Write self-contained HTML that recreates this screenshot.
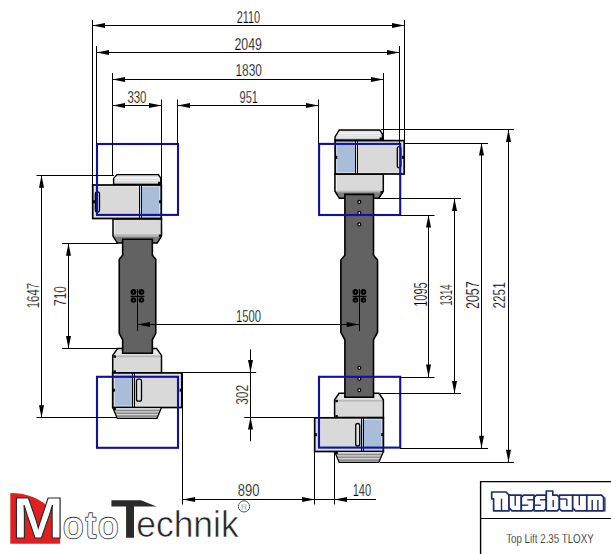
<!DOCTYPE html>
<html><head><meta charset="utf-8"><style>
html,body{margin:0;padding:0;background:#fff;width:611px;height:554px;overflow:hidden}
svg{display:block}
text{font-family:"Liberation Sans",sans-serif}
.d{fill:#000;stroke:#fff;stroke-width:0.25px}
</style></head><body>
<svg width="611" height="554" viewBox="0 0 611 554">
<rect width="611" height="554" fill="#fff"/>
<polygon points="113.00,219.00 161.50,219.00 161.50,236.10 157.20,243.10 117.30,243.10 113.00,236.10" fill="#d9d9d9"/>
<rect x="113.0" y="234.30" width="48.5" height="2.5" fill="#b4b4b4"/>
<polygon points="113.00,236.80 161.50,236.80 161.50,236.80 157.20,243.10 117.30,243.10 113.00,236.80" fill="#7e7e7e"/>
<line x1="114.6" y1="219.0" x2="114.6" y2="234.29999999999998" stroke="#f4f4f4" stroke-width="0.8"/>
<polygon points="113.00,219.00 161.50,219.00 161.50,236.10 157.20,243.10 117.30,243.10 113.00,236.10" fill="none" stroke="#000" stroke-width="1.5"/>
<rect x="158.80" y="234.60" width="2.4" height="2.4" fill="#000"/>
<polygon points="117.70,348.40 156.50,348.40 161.50,355.40 161.50,372.90 112.70,372.90 112.70,355.40" fill="#d9d9d9"/>
<polygon points="112.7,355.4 117.7,348.4 156.5,348.4 161.5,355.4" fill="#e6e6e6"/>
<rect x="112.7" y="355.40" width="48.8" height="1.8" fill="#b8b8b8"/>
<polygon points="117.70,348.40 156.50,348.40 161.50,355.40 161.50,372.90 112.70,372.90 112.70,355.40" fill="none" stroke="#000" stroke-width="1.5"/>
<rect x="113.50" y="355.40" width="2.4" height="2.4" fill="#000"/>
<rect x="113.50" y="370.40" width="2.4" height="2.4" fill="#000"/>
<polygon points="122.65,239.20 152.35,239.20 152.35,255.30 155.75,259.30 155.75,333.40 152.35,339.80 152.35,353.20 122.65,353.20 122.65,339.80 119.25,333.40 119.25,259.30 122.65,255.30" fill="#626262" stroke="#000" stroke-width="1.6"/>
<clipPath id="ct1"><polygon points="117.00,174.60 158.40,174.60 160.80,178.20 160.80,184.50 113.60,184.50 113.60,178.40"/></clipPath>
<g clip-path="url(#ct1)">
<rect x="113.6" y="174.6" width="47.20000000000002" height="9.900000000000006" fill="#f8f8f8"/>
<rect x="113.6" y="174.60" width="47.20000000000002" height="2.48" fill="#dedede"/>
<rect x="113.6" y="178.76" width="47.20000000000002" height="0.99" fill="#d2d2d2"/>
<rect x="113.6" y="180.74" width="47.20000000000002" height="0.99" fill="#d2d2d2"/>
<rect x="113.6" y="182.52" width="47.20000000000002" height="1.98" fill="#bfbfbf"/>
</g>
<polygon points="117.00,174.60 158.40,174.60 160.80,178.20 160.80,184.50 113.60,184.50 113.60,178.40" fill="none" stroke="#000" stroke-width="1.4"/>
<rect x="158.00" y="181.80" width="2.4" height="2.4" fill="#000"/>
<rect x="92.7" y="185.0" width="47.7" height="33.5" fill="#d9d9d9"/>
<rect x="140.4" y="185.0" width="20.900000000000006" height="33.5" fill="#a9bcd8"/>
<rect x="94.5" y="186.6" width="65.00000000000001" height="30.3" fill="none" stroke="#f0f0f0" stroke-width="0.8" opacity="0.7"/>
<rect x="92.7" y="185.0" width="68.60000000000001" height="33.5" fill="none" stroke="#000" stroke-width="1.7"/>
<line x1="139.5" y1="185.0" x2="139.5" y2="218.5" stroke="#000" stroke-width="1"/>
<line x1="141.5" y1="185.0" x2="141.5" y2="218.5" stroke="#000" stroke-width="1"/>
<rect x="95.3" y="191.8" width="4.2" height="20.099999999999994" rx="2" fill="#dedede" stroke="#000" stroke-width="1.3"/>
<rect x="92.90" y="200.25" width="2" height="3" fill="#000"/>
<rect x="159.10" y="200.25" width="2" height="3" fill="#000"/>
<rect x="112.7" y="372.9" width="21.10000000000001" height="34.60000000000002" fill="#a9bcd8"/>
<rect x="133.8" y="372.9" width="48.0" height="34.60000000000002" fill="#d9d9d9"/>
<rect x="114.5" y="374.5" width="65.50000000000001" height="31.400000000000023" fill="none" stroke="#f0f0f0" stroke-width="0.8" opacity="0.7"/>
<rect x="112.7" y="372.9" width="69.10000000000001" height="34.60000000000002" fill="none" stroke="#000" stroke-width="1.7"/>
<line x1="132.5" y1="372.9" x2="132.5" y2="407.5" stroke="#000" stroke-width="1"/>
<line x1="134.5" y1="372.9" x2="134.5" y2="407.5" stroke="#000" stroke-width="1"/>
<rect x="136.5" y="379.2" width="5" height="22.0" rx="2" fill="#dedede" stroke="#000" stroke-width="1.3"/>
<rect x="112.90" y="388.70" width="2" height="3" fill="#000"/>
<rect x="179.60" y="388.70" width="2" height="3" fill="#000"/>
<polygon points="112.70,407.50 161.50,407.50 157.00,418.30 117.20,418.30" fill="#d6d6d6"/>
<polygon points="113.60,409.66 160.60,409.66 159.92,411.28 114.28,411.28" fill="#8a8a8a"/>
<polygon points="114.77,412.47 159.43,412.47 158.75,414.09 115.45,414.09" fill="#8a8a8a"/>
<polygon points="115.94,415.28 158.26,415.28 157.59,416.90 116.62,416.90" fill="#8a8a8a"/>
<polygon points="112.70,407.50 161.50,407.50 157.00,418.30 117.20,418.30" fill="none" stroke="#000" stroke-width="1.2"/>
<rect x="113.50" y="407.60" width="2.4" height="2.4" fill="#000"/>
<polygon points="334.90,173.90 383.30,173.90 383.30,191.20 378.80,198.20 339.40,198.20 334.90,191.20" fill="#d9d9d9"/>
<rect x="334.9" y="190.70" width="48.400000000000034" height="1.5" fill="#b4b4b4"/>
<polygon points="334.90,192.20 383.30,192.20 383.30,192.20 378.80,198.20 339.40,198.20 334.90,192.20" fill="#7e7e7e"/>
<line x1="336.5" y1="173.9" x2="336.5" y2="190.7" stroke="#f4f4f4" stroke-width="0.8"/>
<polygon points="334.90,173.90 383.30,173.90 383.30,191.20 378.80,198.20 339.40,198.20 334.90,191.20" fill="none" stroke="#000" stroke-width="1.5"/>
<rect x="380.60" y="191.00" width="2.4" height="2.4" fill="#000"/>
<polygon points="339.10,393.30 378.90,393.30 383.40,399.80 383.40,417.60 334.60,417.60 334.60,399.80" fill="#d9d9d9"/>
<polygon points="334.6,399.8 339.1,393.3 378.9,393.3 383.4,399.8" fill="#e6e6e6"/>
<rect x="334.6" y="399.80" width="48.799999999999955" height="1.8" fill="#b8b8b8"/>
<polygon points="339.10,393.30 378.90,393.30 383.40,399.80 383.40,417.60 334.60,417.60 334.60,399.80" fill="none" stroke="#000" stroke-width="1.5"/>
<rect x="335.40" y="399.80" width="2.4" height="2.4" fill="#000"/>
<rect x="335.40" y="415.10" width="2.4" height="2.4" fill="#000"/>
<polygon points="344.90,194.40 373.50,194.40 373.50,255.20 377.55,260.00 377.55,332.20 373.50,339.80 373.50,397.20 344.90,397.20 344.90,339.80 340.85,332.20 340.85,260.00 344.90,255.20" fill="#626262" stroke="#000" stroke-width="1.6"/>
<clipPath id="ct2"><polygon points="339.30,130.00 379.80,130.00 382.40,134.00 382.40,140.20 335.00,140.20 335.00,137.00"/></clipPath>
<g clip-path="url(#ct2)">
<rect x="335.0" y="130.0" width="47.39999999999998" height="10.199999999999989" fill="#f8f8f8"/>
<rect x="335.0" y="130.00" width="47.39999999999998" height="2.55" fill="#dedede"/>
<rect x="335.0" y="134.28" width="47.39999999999998" height="1.02" fill="#d2d2d2"/>
<rect x="335.0" y="136.32" width="47.39999999999998" height="1.02" fill="#d2d2d2"/>
<rect x="335.0" y="138.16" width="47.39999999999998" height="2.04" fill="#bfbfbf"/>
</g>
<polygon points="339.30,130.00 379.80,130.00 382.40,134.00 382.40,140.20 335.00,140.20 335.00,137.00" fill="none" stroke="#000" stroke-width="1.4"/>
<rect x="379.60" y="137.50" width="2.4" height="2.4" fill="#000"/>
<rect x="335.1" y="140.6" width="20.899999999999977" height="33.400000000000006" fill="#a9bcd8"/>
<rect x="356.0" y="140.6" width="48.19999999999999" height="33.400000000000006" fill="#d9d9d9"/>
<rect x="336.90000000000003" y="142.2" width="65.49999999999997" height="30.200000000000006" fill="none" stroke="#f0f0f0" stroke-width="0.8" opacity="0.7"/>
<rect x="335.1" y="140.6" width="69.09999999999997" height="33.400000000000006" fill="none" stroke="#000" stroke-width="1.7"/>
<line x1="355.5" y1="140.6" x2="355.5" y2="174.0" stroke="#000" stroke-width="1"/>
<line x1="357.5" y1="140.6" x2="357.5" y2="174.0" stroke="#000" stroke-width="1"/>
<rect x="397.3" y="146.6" width="3.6" height="21.200000000000017" rx="2" fill="#dedede" stroke="#000" stroke-width="1.3"/>
<rect x="335.30" y="155.80" width="2" height="3" fill="#000"/>
<rect x="402.00" y="155.80" width="2" height="3" fill="#000"/>
<rect x="314.7" y="417.8" width="47.30000000000001" height="33.69999999999999" fill="#d9d9d9"/>
<rect x="362.0" y="417.8" width="21.399999999999977" height="33.69999999999999" fill="#a9bcd8"/>
<rect x="316.5" y="419.40000000000003" width="65.1" height="30.49999999999999" fill="none" stroke="#f0f0f0" stroke-width="0.8" opacity="0.7"/>
<rect x="314.7" y="417.8" width="68.69999999999999" height="33.69999999999999" fill="none" stroke="#000" stroke-width="1.7"/>
<line x1="361.5" y1="417.8" x2="361.5" y2="451.5" stroke="#000" stroke-width="1"/>
<line x1="363.5" y1="417.8" x2="363.5" y2="451.5" stroke="#000" stroke-width="1"/>
<rect x="355.7" y="423.5" width="4" height="22.5" rx="2" fill="#dedede" stroke="#000" stroke-width="1.3"/>
<rect x="314.90" y="433.15" width="2" height="3" fill="#000"/>
<rect x="381.20" y="433.15" width="2" height="3" fill="#000"/>
<polygon points="334.60,451.50 383.40,451.50 378.90,462.30 339.10,462.30" fill="#d6d6d6"/>
<polygon points="335.50,453.66 382.50,453.66 381.82,455.28 336.18,455.28" fill="#8a8a8a"/>
<polygon points="336.67,456.47 381.33,456.47 380.65,458.09 337.35,458.09" fill="#8a8a8a"/>
<polygon points="337.84,459.28 380.16,459.28 379.48,460.90 338.52,460.90" fill="#8a8a8a"/>
<polygon points="334.60,451.50 383.40,451.50 378.90,462.30 339.10,462.30" fill="none" stroke="#000" stroke-width="1.2"/>
<rect x="335.40" y="451.60" width="2.4" height="2.4" fill="#000"/>
<circle cx="359.3" cy="202.0" r="1.5" fill="#fff" stroke="#000" stroke-width="1.3"/>
<circle cx="359.3" cy="212.9" r="1.5" fill="#fff" stroke="#000" stroke-width="1.3"/>
<circle cx="359.3" cy="224.4" r="1.5" fill="#fff" stroke="#000" stroke-width="1.3"/>
<circle cx="359.3" cy="367.8" r="1.5" fill="#fff" stroke="#000" stroke-width="1.3"/>
<circle cx="359.3" cy="378.8" r="1.5" fill="#fff" stroke="#000" stroke-width="1.3"/>
<circle cx="359.3" cy="390.1" r="1.5" fill="#fff" stroke="#000" stroke-width="1.3"/>
<circle cx="133.4" cy="291.9" r="2.9" fill="#000"/>
<circle cx="133.70000000000002" cy="292.09999999999997" r="0.8" fill="#555"/>
<circle cx="133.4" cy="300.0" r="2.8" fill="#000"/>
<circle cx="133.70000000000002" cy="300.2" r="0.8" fill="#555"/>
<circle cx="141.4" cy="291.9" r="2.9" fill="#000"/>
<circle cx="141.70000000000002" cy="292.09999999999997" r="0.8" fill="#555"/>
<circle cx="141.4" cy="300.0" r="2.8" fill="#000"/>
<circle cx="141.70000000000002" cy="300.2" r="0.8" fill="#555"/>
<line x1="130.6" y1="296.4" x2="144.4" y2="296.4" stroke="#000" stroke-width="1.3"/>
<circle cx="355.4" cy="291.9" r="2.9" fill="#000"/>
<circle cx="355.7" cy="292.09999999999997" r="0.8" fill="#555"/>
<circle cx="355.4" cy="300.0" r="2.8" fill="#000"/>
<circle cx="355.7" cy="300.2" r="0.8" fill="#555"/>
<circle cx="363.4" cy="291.9" r="2.9" fill="#000"/>
<circle cx="363.7" cy="292.09999999999997" r="0.8" fill="#555"/>
<circle cx="363.4" cy="300.0" r="2.8" fill="#000"/>
<circle cx="363.7" cy="300.2" r="0.8" fill="#555"/>
<line x1="352.6" y1="296.4" x2="366.4" y2="296.4" stroke="#000" stroke-width="1.3"/>
<rect x="97.0" y="144.0" width="81.0" height="70.9" fill="none" stroke="#1010a6" stroke-width="2.1"/>
<rect x="97.0" y="376.8" width="81.0" height="71.0" fill="none" stroke="#1010a6" stroke-width="2.1"/>
<rect x="319.1" y="143.9" width="81.09999999999997" height="71.1" fill="none" stroke="#1010a6" stroke-width="2.1"/>
<rect x="319.0" y="376.8" width="81.19999999999999" height="70.80000000000001" fill="none" stroke="#1010a6" stroke-width="2.1"/>
<line x1="92.5" y1="20" x2="92.5" y2="219" stroke="#000" stroke-width="1"/>
<line x1="404.5" y1="20" x2="404.5" y2="174" stroke="#000" stroke-width="1"/>
<line x1="92.5" y1="25.5" x2="404.5" y2="25.5" stroke="#000" stroke-width="1"/>
<polygon points="92.50,25.50 105.00,23.00 105.00,28.00" fill="#000"/>
<polygon points="404.50,25.50 392.00,23.00 392.00,28.00" fill="#000"/>
<text x="248.45" y="22.80" text-anchor="middle" font-size="16.62" textLength="23.50" lengthAdjust="spacingAndGlyphs" class="d">2110</text>
<line x1="96.5" y1="46" x2="96.5" y2="144" stroke="#000" stroke-width="1"/>
<line x1="399.5" y1="46" x2="399.5" y2="144" stroke="#000" stroke-width="1"/>
<line x1="96.5" y1="52.5" x2="399.5" y2="52.5" stroke="#000" stroke-width="1"/>
<polygon points="96.50,52.50 109.00,50.00 109.00,55.00" fill="#000"/>
<polygon points="399.50,52.50 387.00,50.00 387.00,55.00" fill="#000"/>
<text x="248.25" y="49.90" text-anchor="middle" font-size="16.06" textLength="27.50" lengthAdjust="spacingAndGlyphs" class="d">2049</text>
<line x1="112.5" y1="73" x2="112.5" y2="175" stroke="#000" stroke-width="1"/>
<line x1="383.5" y1="73" x2="383.5" y2="140" stroke="#000" stroke-width="1"/>
<line x1="112.5" y1="79.5" x2="383.5" y2="79.5" stroke="#000" stroke-width="1"/>
<polygon points="112.50,79.50 125.00,77.00 125.00,82.00" fill="#000"/>
<polygon points="383.50,79.50 371.00,77.00 371.00,82.00" fill="#000"/>
<text x="248.65" y="76.00" text-anchor="middle" font-size="16.20" textLength="26.50" lengthAdjust="spacingAndGlyphs" class="d">1830</text>
<line x1="161.5" y1="99.5" x2="161.5" y2="184" stroke="#000" stroke-width="1"/>
<line x1="112.5" y1="105.5" x2="161.5" y2="105.5" stroke="#000" stroke-width="1"/>
<polygon points="112.50,105.50 125.00,103.00 125.00,108.00" fill="#000"/>
<polygon points="161.50,105.50 149.00,103.00 149.00,108.00" fill="#000"/>
<text x="136.95" y="103.00" text-anchor="middle" font-size="15.92" textLength="19.10" lengthAdjust="spacingAndGlyphs" class="d">330</text>
<line x1="177.5" y1="99.5" x2="177.5" y2="144" stroke="#000" stroke-width="1"/>
<line x1="318.5" y1="99.5" x2="318.5" y2="144" stroke="#000" stroke-width="1"/>
<line x1="177.5" y1="105.5" x2="318.5" y2="105.5" stroke="#000" stroke-width="1"/>
<polygon points="177.50,105.50 190.00,103.00 190.00,108.00" fill="#000"/>
<polygon points="318.50,105.50 306.00,103.00 306.00,108.00" fill="#000"/>
<text x="248.80" y="103.00" text-anchor="middle" font-size="15.92" textLength="18.40" lengthAdjust="spacingAndGlyphs" class="d">951</text>
<line x1="36.5" y1="175.5" x2="114" y2="175.5" stroke="#000" stroke-width="1"/>
<line x1="36.5" y1="417.5" x2="117" y2="417.5" stroke="#000" stroke-width="1"/>
<line x1="41.5" y1="175.2" x2="41.5" y2="417.8" stroke="#000" stroke-width="1"/>
<polygon points="41.50,175.20 39.00,187.70 44.00,187.70" fill="#000"/>
<polygon points="41.50,417.80 39.00,405.30 44.00,405.30" fill="#000"/>
<text transform="translate(39.20,295.55) rotate(-90)" x="0" y="0" text-anchor="middle" font-size="16.48" textLength="25.50" lengthAdjust="spacingAndGlyphs" class="d">1647</text>
<line x1="62" y1="243.5" x2="118" y2="243.5" stroke="#000" stroke-width="1"/>
<line x1="62" y1="348.5" x2="118" y2="348.5" stroke="#000" stroke-width="1"/>
<line x1="68.5" y1="243.3" x2="68.5" y2="348.4" stroke="#000" stroke-width="1"/>
<polygon points="68.50,243.30 66.00,255.80 71.00,255.80" fill="#000"/>
<polygon points="68.50,348.40 66.00,335.90 71.00,335.90" fill="#000"/>
<text transform="translate(66.20,296.05) rotate(-90)" x="0" y="0" text-anchor="middle" font-size="17.18" textLength="19.70" lengthAdjust="spacingAndGlyphs" class="d">710</text>
<line x1="137.5" y1="289" x2="137.5" y2="331" stroke="#000" stroke-width="1"/>
<line x1="359.5" y1="289" x2="359.5" y2="331" stroke="#000" stroke-width="1"/>
<line x1="137.5" y1="324.5" x2="359.1" y2="324.5" stroke="#000" stroke-width="1"/>
<polygon points="137.50,324.50 150.00,322.00 150.00,327.00" fill="#000"/>
<polygon points="359.10,324.50 346.60,322.00 346.60,327.00" fill="#000"/>
<text x="248.50" y="321.90" text-anchor="middle" font-size="16.90" textLength="25.00" lengthAdjust="spacingAndGlyphs" class="d">1500</text>
<line x1="182.4" y1="372.5" x2="256.2" y2="372.5" stroke="#000" stroke-width="1"/>
<line x1="244.3" y1="417.5" x2="315" y2="417.5" stroke="#000" stroke-width="1"/>
<line x1="250.5" y1="349.4" x2="250.5" y2="441.2" stroke="#000" stroke-width="1"/>
<polygon points="250.50,372.50 248.00,360.00 253.00,360.00" fill="#000"/>
<polygon points="250.50,417.00 248.00,429.50 253.00,429.50" fill="#000"/>
<text transform="translate(247.60,394.85) rotate(-90)" x="0" y="0" text-anchor="middle" font-size="16.48" textLength="19.90" lengthAdjust="spacingAndGlyphs" class="d">302</text>
<line x1="400" y1="215.5" x2="434.5" y2="215.5" stroke="#000" stroke-width="1"/>
<line x1="400" y1="377.5" x2="434.5" y2="377.5" stroke="#000" stroke-width="1"/>
<line x1="428.5" y1="215.1" x2="428.5" y2="377.0" stroke="#000" stroke-width="1"/>
<polygon points="428.50,215.10 426.00,227.60 431.00,227.60" fill="#000"/>
<polygon points="428.50,377.00 426.00,364.50 431.00,364.50" fill="#000"/>
<text transform="translate(426.60,294.55) rotate(-90)" x="0" y="0" text-anchor="middle" font-size="18.72" textLength="24.50" lengthAdjust="spacingAndGlyphs" class="d">1095</text>
<line x1="379" y1="198.5" x2="461" y2="198.5" stroke="#000" stroke-width="1"/>
<line x1="380" y1="393.5" x2="461" y2="393.5" stroke="#000" stroke-width="1"/>
<line x1="454.5" y1="198.4" x2="454.5" y2="393.4" stroke="#000" stroke-width="1"/>
<polygon points="454.50,198.40 452.00,210.90 457.00,210.90" fill="#000"/>
<polygon points="454.50,393.40 452.00,380.90 457.00,380.90" fill="#000"/>
<text transform="translate(452.10,295.10) rotate(-90)" x="0" y="0" text-anchor="middle" font-size="16.34" textLength="21.20" lengthAdjust="spacingAndGlyphs" class="d">1314</text>
<line x1="404" y1="143.5" x2="488" y2="143.5" stroke="#000" stroke-width="1"/>
<line x1="400" y1="448.5" x2="488" y2="448.5" stroke="#000" stroke-width="1"/>
<line x1="481.5" y1="143.1" x2="481.5" y2="448.2" stroke="#000" stroke-width="1"/>
<polygon points="481.50,143.10 479.00,155.60 484.00,155.60" fill="#000"/>
<polygon points="481.50,448.20 479.00,435.70 484.00,435.70" fill="#000"/>
<text transform="translate(478.70,295.15) rotate(-90)" x="0" y="0" text-anchor="middle" font-size="17.74" textLength="27.70" lengthAdjust="spacingAndGlyphs" class="d">2057</text>
<line x1="381" y1="129.5" x2="514" y2="129.5" stroke="#000" stroke-width="1"/>
<line x1="380" y1="462.5" x2="514" y2="462.5" stroke="#000" stroke-width="1"/>
<line x1="508.5" y1="129.4" x2="508.5" y2="462.3" stroke="#000" stroke-width="1"/>
<polygon points="508.50,129.40 506.00,141.90 511.00,141.90" fill="#000"/>
<polygon points="508.50,462.30 506.00,449.80 511.00,449.80" fill="#000"/>
<text transform="translate(505.30,295.40) rotate(-90)" x="0" y="0" text-anchor="middle" font-size="16.34" textLength="26.20" lengthAdjust="spacingAndGlyphs" class="d">2251</text>
<line x1="182.5" y1="372.5" x2="182.5" y2="504.5" stroke="#000" stroke-width="1"/>
<line x1="314.5" y1="417" x2="314.5" y2="504.5" stroke="#000" stroke-width="1"/>
<line x1="334.5" y1="452" x2="334.5" y2="504.5" stroke="#000" stroke-width="1"/>
<line x1="182.6" y1="499.5" x2="376" y2="499.5" stroke="#000" stroke-width="1"/>
<polygon points="182.60,499.50 195.10,497.00 195.10,502.00" fill="#000"/>
<polygon points="314.60,499.50 302.10,497.00 302.10,502.00" fill="#000"/>
<polygon points="334.50,499.50 347.00,497.00 347.00,502.00" fill="#000"/>
<text x="248.60" y="496.00" text-anchor="middle" font-size="15.92" textLength="21.60" lengthAdjust="spacingAndGlyphs" class="d">890</text>
<text x="361.95" y="495.60" text-anchor="middle" font-size="16.34" textLength="18.50" lengthAdjust="spacingAndGlyphs" class="d">140</text>
<polyline points="480.6,554 480.6,481.6 611,481.6" fill="none" stroke="#000" stroke-width="1.4"/>
<line x1="480.5" y1="518.5" x2="611" y2="518.5" stroke="#000" stroke-width="1.2"/>
<text x="549.9" y="543.1" text-anchor="middle" font-size="12.5" textLength="87.5" lengthAdjust="spacingAndGlyphs" class="d">Top Lift 2.35 TLOXY</text>
<polygon points="491.70,492.00 506.00,492.00 509.00,495.00 509.00,510.80 493.60,510.80 493.60,498.80 491.70,498.80" fill="#fff" stroke="#1c2d6b" stroke-width="1.7" stroke-linejoin="round"/>
<polygon points="509.00,495.20 521.30,495.20 521.30,510.80 512.00,510.80 509.00,507.80" fill="#fff" stroke="#1c2d6b" stroke-width="1.7" stroke-linejoin="round"/>
<polygon points="523.50,495.20 534.10,495.20 534.10,508.60 531.90,510.80 521.30,510.80 521.30,497.40" fill="#fff" stroke="#1c2d6b" stroke-width="1.7" stroke-linejoin="round"/>
<polygon points="536.30,495.20 546.30,495.20 546.30,508.60 544.10,510.80 534.10,510.80 534.10,497.40" fill="#fff" stroke="#1c2d6b" stroke-width="1.7" stroke-linejoin="round"/>
<polygon points="546.30,491.00 552.80,491.00 552.80,495.20 557.20,495.20 559.40,497.40 559.40,508.60 557.20,510.80 546.30,510.80" fill="#fff" stroke="#1c2d6b" stroke-width="1.7" stroke-linejoin="round"/>
<polygon points="559.40,495.20 572.70,495.20 572.70,510.80 561.60,510.80 559.40,508.60" fill="#fff" stroke="#1c2d6b" stroke-width="1.7" stroke-linejoin="round"/>
<polygon points="572.70,495.20 586.80,495.20 586.80,510.80 575.50,510.80 572.70,508.00" fill="#fff" stroke="#1c2d6b" stroke-width="1.7" stroke-linejoin="round"/>
<polygon points="586.80,495.20 601.50,495.20 603.60,497.30 603.60,510.80 586.80,510.80" fill="#fff" stroke="#1c2d6b" stroke-width="1.7" stroke-linejoin="round"/>
<line x1="604.9" y1="497.5" x2="604.9" y2="511.6" stroke="#1c2d6b" stroke-width="1.3"/>
<line x1="501.5" y1="498.6" x2="501.5" y2="510.8" stroke="#1c2d6b" stroke-width="1.4"/>
<line x1="515.2" y1="495.2" x2="515.2" y2="505.8" stroke="#1c2d6b" stroke-width="1.4"/>
<line x1="527.3" y1="499.8" x2="534.1" y2="499.8" stroke="#1c2d6b" stroke-width="1.4"/>
<line x1="521.3" y1="505.2" x2="528.3" y2="505.2" stroke="#1c2d6b" stroke-width="1.4"/>
<line x1="540.1" y1="499.8" x2="546.3" y2="499.8" stroke="#1c2d6b" stroke-width="1.4"/>
<line x1="534.1" y1="505.2" x2="540.8" y2="505.2" stroke="#1c2d6b" stroke-width="1.4"/>
<line x1="553.2" y1="500" x2="553.2" y2="507" stroke="#1c2d6b" stroke-width="1.4"/>
<line x1="559.4" y1="499" x2="566.8" y2="499" stroke="#1c2d6b" stroke-width="1.4"/>
<line x1="566.8" y1="499" x2="566.8" y2="506" stroke="#1c2d6b" stroke-width="1.4"/>
<line x1="579.3" y1="495.2" x2="579.3" y2="505.3" stroke="#1c2d6b" stroke-width="1.4"/>
<line x1="592.2" y1="500" x2="592.2" y2="510.8" stroke="#1c2d6b" stroke-width="1.4"/>
<line x1="597.9" y1="500" x2="597.9" y2="510.8" stroke="#1c2d6b" stroke-width="1.4"/>
<path d="M10.3,492.9 C35,493 55,505 60.2,530 L60.2,543.8 L10.3,543.8 Z" fill="#e02020"/>
<text x="38.3" y="537.8" text-anchor="middle" font-size="57.5" font-weight="bold" textLength="52" lengthAdjust="spacingAndGlyphs" fill="#fff" stroke="#2a2a2a" stroke-width="1.1">M</text>
<text x="63.3" y="537.6" font-size="36" textLength="55" lengthAdjust="spacing" fill="#333" stroke="#333" stroke-width="2.3" stroke-linejoin="round">oto</text>
<text x="63.3" y="537.6" font-size="36" textLength="55" lengthAdjust="spacing" fill="#fff" stroke="#fff" stroke-width="0.7" stroke-linejoin="round">oto</text>
<path d="M111.4,500.3 L140.9,500.3 L156.6,506.5 L134,506.5 L134,537.7 L126.1,537.7 L126.1,506.5 L111.4,506.5 Z" fill="#2a2a2a"/>
<text x="136.2" y="537.4" font-size="37.5" textLength="102.5" lengthAdjust="spacingAndGlyphs" fill="#262626" stroke="#fff" stroke-width="0.6">echnik</text>
<circle cx="244" cy="506.4" r="5.6" fill="none" stroke="#444" stroke-width="0.9"/>
<text x="244" y="509.5" text-anchor="middle" font-size="8.5" fill="#444" stroke="#fff" stroke-width="0.35">R</text>
</svg>
</body></html>
